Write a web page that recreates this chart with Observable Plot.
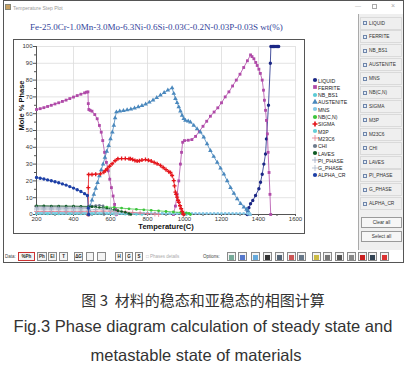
<!DOCTYPE html>
<html><head><meta charset="utf-8">
<script src="https://cdn.jsdelivr.net/npm/d3@7"></script>
<script src="https://cdn.jsdelivr.net/npm/@observablehq/plot@0.6"></script>
<style>
html,body{margin:0;padding:0;}
body{width:406px;height:370px;background:#fff;position:relative;overflow:hidden;font-family:"Liberation Sans",Arial,sans-serif;}
.a{position:absolute;}
#win{left:3px;top:0;width:401px;height:263px;border:1px solid #555;box-sizing:border-box;}
#frame{left:13px;top:39px;width:292px;height:195px;border:1px solid #555;box-sizing:border-box;background:#fff;}
#chart{left:14px;top:40px;}
#title{left:30px;top:22px;font:9px "Liberation Serif",serif;color:#34449a;white-space:nowrap;}
#wtitle{left:13px;top:5px;font-size:5px;color:#999;}
#panel{left:358px;top:14px;width:45px;height:236px;background:#efefef;border-left:1px solid #aaa;box-sizing:border-box;}
.row{position:absolute;left:1px;width:42px;height:13px;border:1px solid #dadada;box-sizing:border-box;font-size:4.8px;color:#333;line-height:11px;padding-left:8px;white-space:nowrap;}
.cb{position:absolute;left:2px;top:3.5px;width:4px;height:4px;border:0.6px solid #6f86aa;background:#e6edf8;box-sizing:border-box;}
.btn{position:absolute;left:2px;width:41px;height:11px;border:1px solid #9a9a9a;background:#f6f6f6;font-size:4.8px;line-height:9px;text-align:center;color:#333;box-sizing:border-box;}
#legend{left:312px;top:77px;font-size:5.2px;color:#222;}
.lg{position:absolute;left:0;height:7px;white-space:nowrap;}
.lg svg{position:absolute;left:0;top:0;}
.lg span{position:absolute;left:6px;top:0.5px;line-height:6px;}
.tb{position:absolute;top:252px;height:9px;border:1px solid #8a8a8a;background:#f4f4f4;font-size:4.5px;line-height:8px;text-align:center;color:#222;box-sizing:border-box;font-weight:bold;}
.tt{position:absolute;top:254px;font-size:4.5px;color:#444;}
.cap{left:0;width:406px;text-align:center;color:#333;white-space:nowrap;}
</style></head>
<body>
<div id="win" class="a"></div>
<div class="a" style="left:5px;top:4px;width:6px;height:6px;background:#c9a060;border:1px solid #887;box-sizing:border-box"></div>
<div id="wtitle" class="a">Temperature Step Plot</div>
<div class="a" style="left:355px;top:3px;font-size:6px;color:#aaa">—</div>
<div class="a" style="left:372px;top:4px;width:5px;height:5px;border:0.7px solid #aaa;box-sizing:border-box"></div>
<div class="a" style="left:391px;top:2px;font-size:7px;color:#aaa">×</div>
<div id="title" class="a">Fe-25.0Cr-1.0Mn-3.0Mo-6.3Ni-0.6Si-0.03C-0.2N-0.03P-0.03S wt(%)</div>
<div id="frame" class="a"></div>
<div id="chart" class="a"></div>
<div id="legend" class="a"></div>
<div id="panel" class="a"></div>
<div id="toolbar"></div>
<div class="a cap" style="top:289px;font:15px 'Noto Sans CJK SC',sans-serif;color:#333">图 3&nbsp;&nbsp;材料的稳态和亚稳态的相图计算</div>
<div class="a cap" style="top:317px;font-size:16.5px;">Fig.3 Phase diagram calculation of steady state and</div>
<div class="a cap" style="top:346px;font-size:16.5px;left:-7px">metastable state of materials</div>
<script>
// ---------- data ----------
const phaseNames = ["LIQUID","FERRITE","NB_BS1","AUSTENITE","MNS","NB(C,N)","SIGMA","M3P","M23C6","CHI","LAVES","PI_PHASE","G_PHASE","ALPHA_CR"];
const xTicks = [200,400,600,800,1000,1200,1400,1600];
const xMinor = [300,500,700,900,1100,1300,1500];
const yTicks = [0,10,20,30,40,50,60,70,80,90,100];
const yMinor = [5,15,25,35,45,55,65,75,85,95];

const liquid = [[1339,0],[1342,1.4],[1348,4],[1357,6.4],[1369,8.3],[1384,11.3],[1402,15.3],[1411,19.2],[1420,24],[1429,30],[1438,36],[1443,45],[1454,65],[1464,90],[1467,100],[1474,100],[1481,100],[1488,100],[1495,100],[1502,100],[1509,100]];
const ferriteLow = [[200,62.5],[220,63],[240,63.6],[260,64.3],[280,65],[300,65.8],[320,66.5],[340,67.3],[360,68.1],[380,69],[400,69.9],[420,70.8],[440,71.6],[460,72.4],[470,72.8],[478,73],[480,66],[483,62.5],[490,62],[500,61.5],[515,59.5],[528,57],[540,53],[550,49],[558,44],[568,37],[578,31],[588,26],[596,21],[605,16],[614,11],[622,6],[628,3],[632,0]];
const ferriteHigh = [[940,0],[951,5],[960,12],[969,20],[978,30],[984,37],[990,43],[1000,44],[1020,44.2],[1040,44.6],[1060,46.5],[1080,49.5],[1100,52.5],[1120,55.5],[1140,58.5],[1160,61],[1180,63.5],[1200,66.5],[1220,70],[1240,73],[1260,76.5],[1280,80],[1300,83.5],[1320,87.5],[1340,91.5],[1357,95],[1365,94],[1375,92.7],[1385,90.5],[1393,88.7],[1402,86.5],[1410,84],[1420,80],[1427,74],[1432,68],[1438,62],[1443,56],[1448,48],[1452,37],[1457,25],[1462,12],[1466,0]];
const austenite = [[480,0],[485,2.5],[490,5],[500,8.5],[510,12],[520,15.5],[530,19],[540,23],[550,26.5],[560,30],[570,34],[580,37.5],[590,41],[600,45],[610,49],[618,53],[625,57.5],[632,61],[650,61.5],[670,61.8],[690,62.2],[710,62.7],[730,63.3],[750,64],[770,64.8],[790,65.7],[810,66.8],[830,68],[850,69.5],[870,71],[890,72.5],[910,74],[933,75.3],[942,72],[951,69],[960,66.5],[969,64],[978,61.5],[987,59],[996,57],[1005,56],[1020,55.5],[1032,55],[1050,53],[1068,51],[1086,49],[1104,46],[1122,42],[1140,38],[1158,34.5],[1177,31],[1195,27.5],[1213,24],[1231,20],[1249,16],[1267,12.5],[1285,9.3],[1303,6.5],[1321,4.4],[1335,3],[1342,2.4],[1348,1],[1352,0]];
const sigma = [[479,0],[480,16],[482,23.8],[500,23.8],[520,24],[546,24.2],[564,25.2],[573,26.2],[582,27.2],[595,28.7],[609,30.2],[625,32],[640,33.2],[660,33.3],[680,33.3],[700,33.2],[708,33.2],[720,32.7],[732,32.2],[744,31.8],[756,32],[770,32.4],[789,32.7],[805,32.3],[820,31.8],[836,31],[852,30.2],[870,29.2],[885,28],[900,26.7],[915,25.5],[924,25],[933,23.2],[942,20.2],[946,17],[951,13.3],[955,12],[960,10.3],[965,8.5],[969,7.3],[976,5.2],[982,3.4],[988,1.8],[993,0.4],[995,0]];
const alphaCr = [[200,22],[220,21.6],[240,21.1],[260,20.6],[280,20.1],[300,19.5],[320,18.9],[340,18.2],[360,17.5],[380,16.6],[400,15.7],[420,14.7],[440,13.7],[460,12.4],[475,11.3],[480,3.8],[482,0]];
const nbcn = [[560,4.5],[580,4.4],[620,4.2],[660,3.8],[700,3.4],[740,3.1],[780,2.8],[820,2.5],[860,2.2],[900,1.8],[940,1.5],[980,1.2],[1010,0.9],[1025,0.6],[1032,0]];
const laves = [[200,5.2],[240,5.2],[280,5.1],[320,5.1],[360,5],[400,5],[440,4.9],[480,4.8],[500,4.6],[520,4.4],[540,4.2],[560,4],[580,3.6],[600,3.2],[620,2.8],[640,2.3],[660,1.8],[680,1.3],[700,0.6],[710,0]];
const chi = [[200,4.6],[240,4.6],[280,4.6],[320,4.5],[360,4.5],[400,4.5],[440,4.4],[480,4.3],[500,5],[520,5.4],[540,5.5],[560,5.2],[565,0]];
const piPhase = [[200,3.8],[240,3.8],[280,3.8],[320,3.8],[360,3.7],[400,3.7],[440,3.7],[480,3.6],[485,0]];
const gPhase = [[200,2.8],[240,2.8],[280,2.8],[320,2.8],[360,2.7],[400,2.7],[440,2.7],[480,2.6],[520,3],[560,3.2],[600,2.8],[620,1.5],[630,0]];
const m23c6 = [[200,1.8],[240,1.8],[280,1.8],[320,1.8],[360,1.7],[400,1.7],[440,1.7],[480,1.7],[520,1.9],[560,2],[600,2],[640,1.8],[680,1.5],[720,1.2],[760,0.9],[800,0.6],[840,0.3],[860,0]];
const nbBs1 = [[200,1.1],[240,1.1],[280,1.1],[320,1.1],[360,1.1],[400,1.1],[440,1.1],[480,1.1],[520,1],[560,1],[600,0.9],[640,0.9],[680,0.8],[720,0.8],[760,0.7],[800,0.7],[840,0.6],[880,0.6],[920,0.5],[960,0.5],[1000,0.4],[1010,0]];
const mns = [[200,0.6],[220,0.6],[240,0.6],[260,0.6],[280,0.6],[300,0.6],[320,0.6],[340,0.6],[360,0.6],[380,0.6],[400,0.6],[420,0.6],[440,0.6],[460,0.6],[480,0.6],[500,0.6],[520,0.6],[540,0.6],[560,0.6],[580,0.6],[600,0.6],[620,0.6],[640,0.6],[660,0.6],[680,0.6],[700,0.6],[720,0.6],[740,0.6],[760,0.6],[780,0.6],[800,0.6],[820,0.6],[840,0.6],[860,0.6],[880,0.6],[900,0.6],[920,0.6],[940,0.6],[960,0.6],[980,0.6],[1000,0.6],[1020,0.6],[1040,0.6],[1060,0.6],[1080,0.6],[1100,0.6],[1120,0.6],[1140,0.6],[1160,0.6],[1180,0.6],[1200,0.6],[1220,0.6],[1240,0.6],[1260,0.6],[1280,0.6],[1300,0.6],[1320,0.6],[1340,0.6],[1352,0.6],[1356,0]];
const m3p = [[200,0.3],[260,0.3],[320,0.3],[380,0.3],[440,0.3],[500,0.3],[560,0.3],[620,0.2],[680,0.2],[740,0.1],[770,0]];

const series = {
  "LIQUID":[liquid], "FERRITE":[ferriteLow, ferriteHigh], "NB_BS1":[nbBs1], "AUSTENITE":[austenite],
  "MNS":[mns], "NB(C,N)":[nbcn], "SIGMA":[sigma], "M3P":[m3p], "M23C6":[m23c6], "CHI":[chi],
  "LAVES":[laves], "PI_PHASE":[piPhase], "G_PHASE":[gPhase], "ALPHA_CR":[alphaCr]
};

// ---------- styles ----------
const styles = {
  "LIQUID":{color:"#1b2785", symbol:"circle", r:1.7, fill:true},
  "FERRITE":{color:"#b04aa8", symbol:"square", r:1.6, fill:true},
  "NB_BS1":{color:"#5ccbd6", symbol:"circle", r:1.4, fill:true},
  "AUSTENITE":{color:"#4a88bd", symbol:"triangle", r:1.7, fill:true},
  "MNS":{color:"#86c8e6", symbol:"circle", r:1.4, fill:true},
  "NB(C,N)":{color:"#3cc43c", symbol:"circle", r:1.4, fill:true},
  "SIGMA":{color:"#e5151b", symbol:"cross", r:1.7, fill:true},
  "M3P":{color:"#62cfd8", symbol:"circle", r:1.3, fill:true},
  "M23C6":{color:"#e07e90", symbol:"plus", r:1.7, fill:false},
  "CHI":{color:"#6d7b8d", symbol:"circle", r:1.3, fill:true},
  "LAVES":{color:"#0e5a24", symbol:"circle", r:1.3, fill:true},
  "PI_PHASE":{color:"#9aa6c0", symbol:"plus", r:1.7, fill:false},
  "G_PHASE":{color:"#aab6c8", symbol:"plus", r:1.7, fill:false},
  "ALPHA_CR":{color:"#1d3fa6", symbol:"circle", r:1.7, fill:true}
};

const rows = phaseNames.flatMap(n => series[n].flatMap((seg, si) => seg.map(([t, v]) => ({phase: n, seg: si, t, v}))));

const phaseMarks = phaseNames.flatMap(n => {
  const s = styles[n];
  const d = rows.filter(r => r.phase === n);
  return [
    Plot.line(d, {x:"t", y:"v", z:"seg", stroke:s.color, strokeWidth:0.8}),
    s.fill
      ? Plot.dot(d, {x:"t", y:"v", symbol:()=>s.symbol, r:s.r, fill:s.color, stroke:"none"})
      : Plot.dot(d, {x:"t", y:"v", symbol:()=>s.symbol, r:s.r, fill:"none", stroke:s.color, strokeWidth:0.8})
  ];
});

const chart = Plot.plot({
  width: 290, height: 193,
  marginLeft: 22, marginRight: 9, marginTop: 6, marginBottom: 19,
  style: {background:"transparent", fontFamily:"'Liberation Sans',Arial,sans-serif", fontSize:"6px", color:"#333", overflow:"visible"},
  x: {domain:[200,1600]},
  y: {domain:[0,100]},
  symbol: {type:"identity"},
  marks: [
    Plot.gridX(xTicks, {stroke:"#dcdcdc", strokeOpacity:1, strokeWidth:0.8}),
    Plot.gridY(yTicks, {stroke:"#dcdcdc", strokeOpacity:1, strokeWidth:0.8}),
    Plot.axisX(xMinor, {tickSize:2, tickFormat:()=>"", stroke:"#555", label:null}),
    Plot.axisX(xTicks, {tickSize:2, tickPadding:0.5, tickFormat:d3.format("d"), stroke:"#555", fill:"#333", fontSize:6, label:null}),
    Plot.axisY(yMinor, {tickSize:2, tickFormat:()=>"", stroke:"#555", label:null}),
    Plot.axisY(yTicks, {tickSize:3, tickPadding:1, tickFormat:d3.format("d"), stroke:"#555", fill:"#333", fontSize:6, label:null}),
    Plot.ruleX([200], {stroke:"#555", strokeWidth:1}),
    Plot.ruleY([0], {stroke:"#555", strokeWidth:1}),
    ...phaseMarks,
    Plot.text(["Mole % Phase"], {frameAnchor:"left", dx:-15, rotate:-90, fontWeight:"bold", fontSize:7.5, fill:"#111"}),
    Plot.text(["Temperature(C)"], {frameAnchor:"bottom", dy:14.5, fontWeight:"bold", fontSize:7.5, fill:"#111"})
  ]
});
document.getElementById("chart").appendChild(chart);

// ---------- legend ----------
const leg = document.getElementById("legend");
phaseNames.forEach((n, i) => {
  const s = styles[n];
  const div = document.createElement("div");
  div.className = "lg";
  div.style.top = (i * 7.3) + "px";
  const sym = {circle:d3.symbolCircle, square:d3.symbolSquare, triangle:d3.symbolTriangle, cross:d3.symbolCross, plus:d3.symbolPlus}[s.symbol];
  const p = d3.symbol(sym, 14)();
  div.innerHTML = `<svg width="6" height="6" viewBox="-3 -3 6 6"><path d="${p}" ${s.fill ? `fill="${s.color}"` : `fill="none" stroke="${s.color}" stroke-width="0.8"`}/></svg><span>${n}</span>`;
  leg.appendChild(div);
});

// ---------- right panel ----------
const panel = document.getElementById("panel");
phaseNames.forEach((n, i) => {
  const r = document.createElement("div");
  r.className = "row";
  r.style.top = (2.5 + i * 13.9) + "px";
  r.innerHTML = `<span class="cb"></span>${n}`;
  panel.appendChild(r);
});
[["Clear all", 203], ["Select all", 217]].forEach(([t, y]) => {
  const b = document.createElement("div");
  b.className = "btn"; b.style.top = y + "px"; b.textContent = t;
  panel.appendChild(b);
});

// ---------- bottom toolbar ----------
const tb = document.getElementById("toolbar");
const tbText = [["Data:", 5], ["Options:", 203]];
tbText.forEach(([t, x]) => { const d = document.createElement("div"); d.className = "tt"; d.style.left = x + "px"; d.textContent = t; tb.appendChild(d); });
const tbBtns = [["%Ph",18,17,"#c33"],["Ph",37,10],["El",48,9],["T",59,9],["ΔG",74,9],["",86,8],["",97,9],["H",115,8],["G",125,8],["S",135,8]];
tbBtns.forEach(([t, x, w, bc]) => {
  const d = document.createElement("div"); d.className = "tb";
  d.style.left = x + "px"; d.style.width = w + "px"; d.textContent = t;
  if (bc) d.style.borderColor = bc;
  tb.appendChild(d);
});
const ph = document.createElement("div"); ph.className = "tt"; ph.style.left = "146px"; ph.style.color = "#aaa";
ph.innerHTML = "&#9633; Phases details"; tb.appendChild(ph);
const icons = [[227,"#7a9"],[238,"#57c"],[251,"#6ad"],[263,"#333"],[275,"#567"],[287,"#c55"],[297,"#678"],[312,"#cb4"],[323,"#777"],[335,"#555"],[347,"#888"],[358,"#c22"],[368,"#345"],[380,"#d33"]];
icons.forEach(([x, c]) => {
  const d = document.createElement("div"); d.className = "tb";
  d.style.left = x + "px"; d.style.width = "9px";
  d.innerHTML = `<div style="margin:1.5px auto;width:5px;height:5px;background:${c}"></div>`;
  tb.appendChild(d);
});
</script>
</body></html>
